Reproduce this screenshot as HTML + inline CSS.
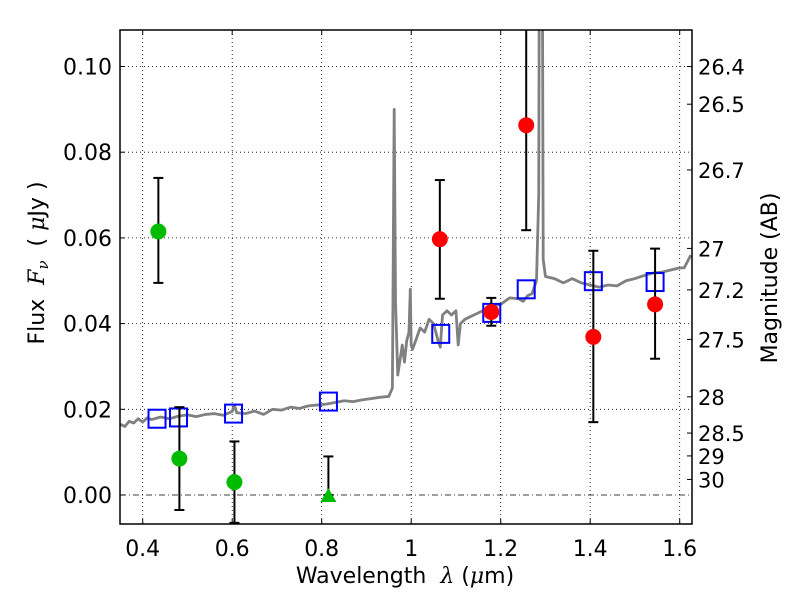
<!DOCTYPE html>
<html><head><meta charset="utf-8"><style>
body{margin:0;background:#fff;width:800px;height:600px;overflow:hidden}
svg{font-family:"DejaVu Sans","Liberation Sans",sans-serif}
text{white-space:pre}
.m{font-family:"DejaVu Serif","Liberation Serif",serif;font-style:italic}
</style></head><body>
<svg id="chart" width="800" height="600" xmlns="http://www.w3.org/2000/svg"></svg>
<script>
const xTicks=[0.4,0.6,0.8,1.0,1.2,1.4,1.6];
const xTickLabels=["0.4","0.6","0.8","1","1.2","1.4","1.6"];
const yTicks=[0,0.02,0.04,0.06,0.08,0.10];
const yTickLabels=["0.00","0.02","0.04","0.06","0.08","0.10"];
const magTicks=[26.4,26.5,26.7,27,27.2,27.5,28,28.5,29,30];
const specWave=[0.35,0.36,0.37,0.38,0.39,0.40,0.41,0.42,0.44,0.46,0.48,0.50,0.52,0.54,0.56,0.58,0.60,0.605,0.61,0.63,0.65,0.67,0.69,0.71,0.73,0.75,0.77,0.79,0.81,0.83,0.85,0.87,0.89,0.91,0.93,0.95,0.958,0.962,0.965,0.97,0.98,0.985,0.99,0.995,0.998,1.0,1.003,1.01,1.02,1.03,1.04,1.05,1.06,1.065,1.07,1.08,1.09,1.10,1.105,1.11,1.12,1.14,1.16,1.18,1.20,1.22,1.24,1.25,1.26,1.27,1.28,1.285,1.288,1.291,1.295,1.30,1.32,1.34,1.36,1.38,1.40,1.42,1.44,1.46,1.48,1.50,1.52,1.54,1.56,1.58,1.60,1.61,1.625];
const specFlux=[0.0165,0.0160,0.0172,0.0168,0.0178,0.0170,0.0180,0.0176,0.0182,0.0178,0.0184,0.0187,0.0183,0.0188,0.0190,0.0186,0.0195,0.0210,0.0192,0.0190,0.0196,0.0188,0.0200,0.0198,0.0205,0.0202,0.0208,0.0210,0.0212,0.0216,0.0220,0.0218,0.0222,0.0225,0.0228,0.0230,0.025,0.090,0.045,0.028,0.035,0.031,0.036,0.038,0.048,0.035,0.034,0.036,0.039,0.038,0.041,0.040,0.036,0.0345,0.042,0.043,0.042,0.043,0.035,0.040,0.041,0.042,0.043,0.044,0.0445,0.046,0.0458,0.0452,0.0465,0.047,0.050,0.070,0.200,0.200,0.055,0.051,0.0505,0.0495,0.0505,0.0495,0.049,0.0485,0.049,0.0488,0.050,0.0505,0.0512,0.0518,0.052,0.0525,0.053,0.053,0.056];
const greenX=[0.435,0.482,0.605];
const greenY=[0.0615,0.0085,0.003];
const greenLo=[0.0495,-0.0035,-0.0065];
const greenHi=[0.074,0.0205,0.0125];
const triX=[0.815];const triY=[0.0];const triLo=[0.0];const triHi=[0.009];
const redX=[1.064,1.179,1.257,1.407,1.545];
const redY=[0.0597,0.0427,0.0863,0.0369,0.0445];
const redLo=[0.0458,0.0395,0.0618,0.017,0.0318];
const redHi=[0.0735,0.046,0.13,0.057,0.0575];
const sqX=[0.432,0.480,0.603,0.815,1.066,1.180,1.257,1.407,1.545];
const sqY=[0.0178,0.0181,0.019,0.0218,0.0376,0.0425,0.048,0.0499,0.0497];

const L=120,R=692,T=30,B=524;
const X=v=>142.7+(v-0.4)*447.5;
const Y=v=>495-v*4285;
const NS="http://www.w3.org/2000/svg";
const svg=document.getElementById('chart');
function el(t,a,p){const e=document.createElementNS(NS,t);for(const k in a)e.setAttribute(k,a[k]);(p||svg).appendChild(e);return e;}
const defs=el('defs',{});const cp=el('clipPath',{id:'cp'},defs);el('rect',{x:L,y:T,width:R-L,height:B-T},cp);
el('rect',{x:0,y:0,width:800,height:600,fill:'#fff'});
xTicks.forEach((v,i)=>{const g=el('line',{x1:X(v),x2:X(v),y1:T,y2:B,stroke:'#000','stroke-width':0.8,'stroke-dasharray':'1,3'});

const t=el('text',{x:X(v),y:556,'text-anchor':'middle','font-size':22});t.textContent=xTickLabels[i];

el('line',{x1:X(v),x2:X(v),y1:B,y2:B-5,stroke:'#000'});el('line',{x1:X(v),x2:X(v),y1:T,y2:T+5,stroke:'#000'});});
yTicks.forEach((v,i)=>{const g=el('line',{x1:L,x2:R,y1:Y(v),y2:Y(v),stroke:'#000','stroke-width':0.8,'stroke-dasharray':v===0?'6,3,1,3':'1,3'});

const t=el('text',{x:112,y:Y(v)+8,'text-anchor':'end','font-size':22});t.textContent=yTickLabels[i];

el('line',{x1:L,x2:L+5,y1:Y(v),y2:Y(v),stroke:'#000'});});
magTicks.forEach(m=>{const f=Math.pow(10,(23.9-m)/2.5);const y=Y(f);
el('line',{x1:R,x2:R-5,y1:y,y2:y,stroke:'#000'});
const t=el('text',{x:698,y:y+8,'font-size':21});t.textContent=String(m);
});
const gp=el('g',{'clip-path':'url(#cp)'});
const sp=el('polyline',{points:specWave.map((w,i)=>X(w)+','+Y(specFlux[i])).join(' '),fill:'none',stroke:'#808080','stroke-width':2.8,'stroke-linejoin':'round'},gp);

function eb(x,lo,hi){el('line',{x1:X(x),x2:X(x),y1:Y(lo),y2:Y(hi),stroke:'#000','stroke-width':2},gp);
[lo,hi].forEach(v=>el('line',{x1:X(x)-5,x2:X(x)+5,y1:Y(v),y2:Y(v),stroke:'#000','stroke-width':2},gp));}
sqX.forEach((x,i)=>{const r=el('rect',{x:X(x)-8.5,y:Y(sqY[i])-9,width:17,height:18,fill:'none',stroke:'#0000ff','stroke-width':2},gp);
});
greenX.forEach((x,i)=>{eb(x,greenLo[i],greenHi[i]);const c=el('circle',{cx:X(x),cy:Y(greenY[i]),r:8,fill:'#00bb00'},gp);
});
triX.forEach((x,i)=>{eb(x,triLo[i],triHi[i]);const p=el('polygon',{points:`${X(x)-8},${Y(triY[i])+7} ${X(x)+8},${Y(triY[i])+7} ${X(x)},${Y(triY[i])-7}`,fill:'#00bb00'},gp);
});
redX.forEach((x,i)=>{eb(x,redLo[i],redHi[i]);const c=el('circle',{cx:X(x),cy:Y(redY[i]),r:8,fill:'#ff0000'},gp);
});
const fr=el('rect',{x:L,y:T,width:R-L,height:B-T,fill:'none',stroke:'#000','stroke-width':1.5});

const xl=el('text',{x:405,y:583,'text-anchor':'middle','font-size':22});xl.innerHTML='Wavelength  <tspan class="m">λ</tspan> (<tspan class="m">μ</tspan>m)';

const yl=el('text',{x:0,y:0,'text-anchor':'middle','font-size':22,transform:'translate(44,263) rotate(-90)'});yl.innerHTML='Flux  <tspan class="m">F</tspan><tspan class="m" font-size="15" dy="4">ν</tspan><tspan dy="-4">  ( </tspan><tspan class="m">μ</tspan>Jy )';

const ml=el('text',{x:0,y:0,'text-anchor':'middle','font-size':22,transform:'translate(777,278) rotate(-90)'});ml.textContent='Magnitude (AB)';

</script>
</body></html>
